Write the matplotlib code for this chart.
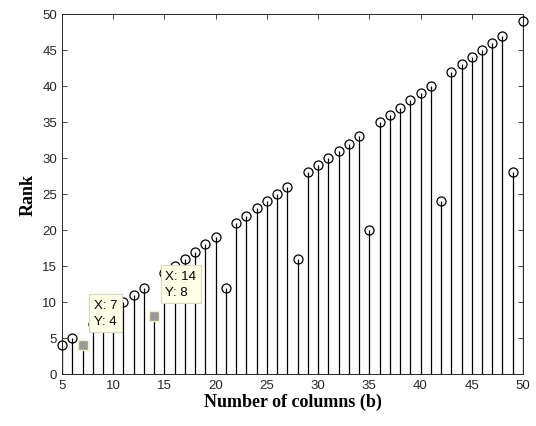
import matplotlib
matplotlib.use("Agg")
import matplotlib.pyplot as plt

columns = list(range(5, 51))
rank = [4, 5, 4, 7, 8, 9, 10, 11, 12, 8, 14, 15, 16, 17, 18, 19, 12, 21, 22, 23,
        24, 25, 26, 16, 28, 29, 30, 31, 32, 33, 20, 35, 36, 37, 38, 39, 40, 24,
        42, 43, 44, 45, 46, 47, 28, 49]
tips_x = [7, 14]
tips_y = [4, 8]

fig = plt.figure(figsize=(5.36, 4.27), dpi=100)
ax = fig.add_axes([0.1157, 0.1218, 0.86, 0.8431])

ax.vlines(columns, 0, rank, colors="black", linewidth=0.9)
ax.plot(columns, rank, linestyle="none", marker="o", markersize=6.5,
        markerfacecolor="none", markeredgecolor="black", markeredgewidth=0.9,
        clip_on=False, zorder=3)

ax.set_xlim(5, 50)
ax.set_ylim(0, 50)
ax.set_xticks(range(5, 51, 5))
ax.set_yticks(range(0, 51, 5))

for lab in ax.get_xticklabels() + ax.get_yticklabels():
    lab.set_fontfamily(["Liberation Sans", "DejaVu Sans"])
    lab.set_fontsize(9.5)
ax.tick_params(direction="in", top=True, right=True, length=3.5, width=0.6,
               colors="#262626", labelcolor="#262626")
for s in ax.spines.values():
    s.set_color("#262626")
    s.set_linewidth(0.7)

ax.set_xlabel("Number of columns (b)", fontfamily="Liberation Serif",
              fontweight="bold", fontsize=13, labelpad=1)
ax.set_ylabel("Rank", fontfamily="Liberation Serif", fontweight="bold",
              fontsize=13, labelpad=4)

for tx, ty in zip(tips_x, tips_y):
    ax.plot([tx], [ty], marker="s", markersize=7.5, color="#999999",
            markeredgecolor="#f5f0c8", markeredgewidth=1.0, zorder=5)
    ax.annotate(f"X: {tx}\nY: {ty}", xy=(tx, ty), xytext=(8, 13),
                textcoords="offset points", ha="left", va="bottom",
                fontfamily=["Liberation Sans", "DejaVu Sans"], fontsize=9.5,
                linespacing=1.5, zorder=6,
                bbox=dict(boxstyle="square,pad=0.35", facecolor="#ffffe6",
                          edgecolor="#d8d8c0", linewidth=0.8))

fig.savefig("out.png", dpi=100)
